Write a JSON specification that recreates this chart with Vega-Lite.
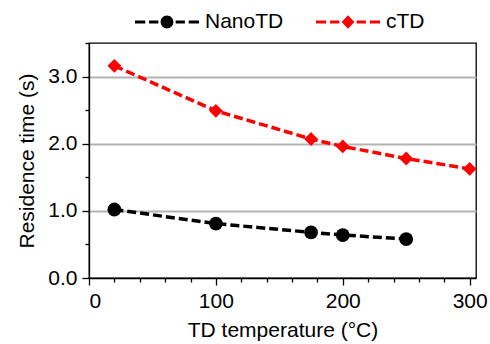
{
  "$schema": "https://vega.github.io/schema/vega-lite/v6.json",
  "width": 387,
  "height": 235,
  "autosize": {"type": "none"},
  "padding": {"left": 89, "top": 43, "right": 14, "bottom": 66},
  "background": "white",
  "config": {
    "font": "Liberation Sans",
    "view": {"stroke": "black", "strokeWidth": 1.3},
    "axis": {
      "labelFont": "Liberation Sans",
      "titleFont": "Liberation Sans",
      "labelFontSize": 21,
      "titleFontSize": 21,
      "titleFontWeight": "normal",
      "labelColor": "black",
      "titleColor": "black",
      "tickColor": "black",
      "domainColor": "black",
      "tickWidth": 1.3,
      "domainWidth": 1.3,
      "labelPadding": 5,
      "gridColor": "#b3b3b3",
      "gridWidth": 2
    },
    "legend": {
      "orient": "none",
      "direction": "horizontal",
      "legendX": 46,
      "legendY": -53,
      "padding": 0,
      "symbolSize": 4096,
      "symbolStrokeWidth": 0,
      "labelFont": "Liberation Sans",
      "labelFontSize": 21,
      "labelColor": "black",
      "labelOffset": 6,
      "columnPadding": 32
    }
  },
  "data": {
    "values": [
      {"series": "NanoTD", "temp": 20, "time": 1.02},
      {"series": "NanoTD", "temp": 100, "time": 0.81},
      {"series": "NanoTD", "temp": 175, "time": 0.68},
      {"series": "NanoTD", "temp": 200, "time": 0.64},
      {"series": "NanoTD", "temp": 250, "time": 0.58},
      {"series": "cTD", "temp": 20, "time": 3.16},
      {"series": "cTD", "temp": 100, "time": 2.49},
      {"series": "cTD", "temp": 175, "time": 2.07},
      {"series": "cTD", "temp": 200, "time": 1.96},
      {"series": "cTD", "temp": 250, "time": 1.78},
      {"series": "cTD", "temp": 300, "time": 1.625}
    ]
  },
  "layer": [
    {
      "mark": {"type": "line", "strokeDash": [9, 4], "strokeWidth": 3.5},
      "encoding": {
        "x": {
          "field": "temp", "type": "quantitative",
          "scale": {"domain": [0, 305], "nice": false},
          "axis": {"orient": "bottom", "values": [0, 100, 200, 300], "title": "TD temperature (°C)", "tickSize": 7, "grid": false, "titlePadding": 8}
        },
        "y": {
          "field": "time", "type": "quantitative",
          "scale": {"domain": [0, 3.5], "nice": false},
          "axis": {"orient": "left", "values": [0, 1, 2, 3], "format": ".1f", "title": "Residence time (s)", "tickSize": 7, "grid": true, "gridOpacity": {"condition": {"test": "datum.value === 0", "value": 0}, "value": 1}, "titlePadding": 10}
        },
        "color": {
          "field": "series", "type": "nominal",
          "scale": {"domain": ["NanoTD", "cTD"], "range": ["black", "#ff0000"]},
          "legend": null
        }
      }
    },
    {
      "mark": {"type": "point", "filled": true, "size": 190, "opacity": 1},
      "encoding": {
        "x": {
          "field": "temp", "type": "quantitative",
          "scale": {"domain": [0, 305], "nice": false},
          "axis": {"orient": "bottom", "values": [20, 40, 60, 80, 120, 140, 160, 180, 220, 240, 260, 280], "labels": false, "title": null, "tickSize": 4, "domain": false, "grid": false}
        },
        "y": {
          "field": "time", "type": "quantitative",
          "scale": {"domain": [0, 3.5], "nice": false},
          "axis": {"orient": "left", "values": [0.5, 1.5, 2.5, 3.5], "labels": false, "title": null, "tickSize": 4, "domain": false, "grid": false}
        },
        "color": {
          "field": "series", "type": "nominal",
          "scale": {"domain": ["NanoTD", "cTD"], "range": ["black", "#ff0000"]},
          "legend": null
        },
        "shape": {
          "field": "series", "type": "nominal",
          "scale": {"domain": ["NanoTD", "cTD"], "range": ["circle", "diamond"]},
          "legend": null
        }
      }
    },
    {
      "transform": [{"filter": "false"}],
      "mark": {"type": "point", "filled": true, "opacity": 1},
      "encoding": {
        "x": {"field": "temp", "type": "quantitative", "axis": null},
        "y": {"field": "time", "type": "quantitative", "axis": null},
        "color": {
          "field": "series", "type": "nominal",
          "scale": {"domain": ["NanoTD", "cTD"], "range": ["black", "#ff0000"]},
          "legend": {"title": null}
        },
        "shape": {
          "field": "series", "type": "nominal",
          "scale": {"domain": ["NanoTD", "cTD"], "range": [
            "M-1,-0.05H-0.68V0.05H-1Z M-0.56,-0.05H-0.27V0.05H-0.56Z M0.27,-0.05H0.56V0.05H0.27Z M0.68,-0.05H1V0.05H0.68Z M-0.2,0A0.2,0.2 0 1,0 0.2,0A0.2,0.2 0 1,0 -0.2,0Z",
            "M-1,-0.05H-0.68V0.05H-1Z M-0.56,-0.05H-0.27V0.05H-0.56Z M0.27,-0.05H0.56V0.05H0.27Z M0.68,-0.05H1V0.05H0.68Z M0,-0.21L0.2,0L0,0.21L-0.2,0Z"
          ]},
          "legend": {"title": null}
        }
      }
    }
  ],
  "resolve": {
    "scale": {"shape": "independent"},
    "axis": {"x": "independent", "y": "independent"},
    "legend": {"color": "independent", "shape": "independent"}
  }
}
